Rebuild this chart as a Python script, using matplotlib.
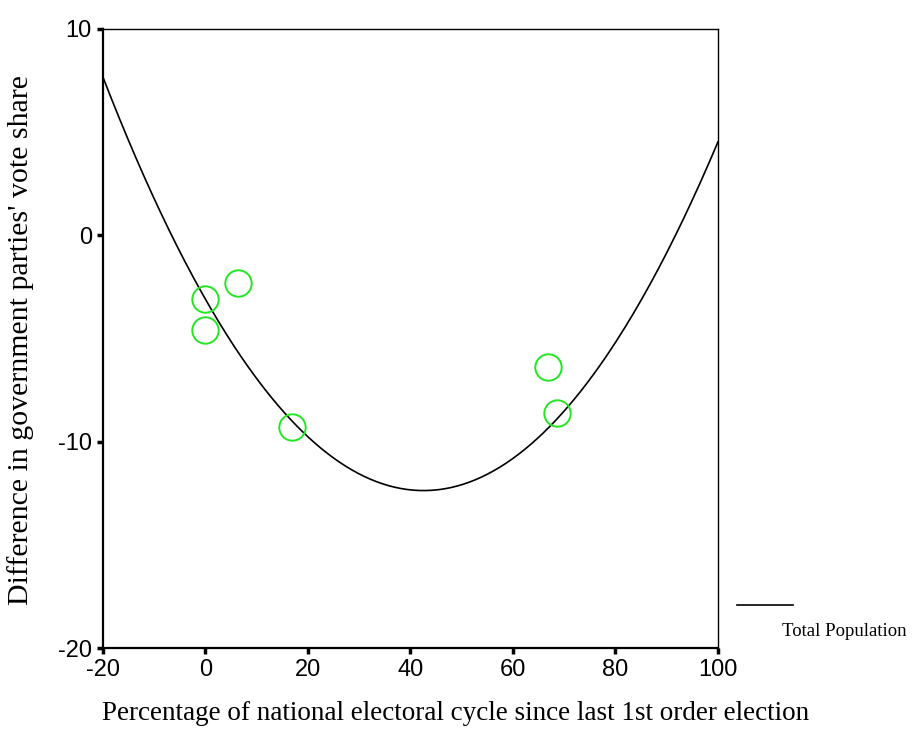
import numpy as np
import matplotlib.pyplot as plt

plt.rcParams['axes.unicode_minus'] = False

# cycle position (%) and difference in government vote share
cycle_pct = [0.0, 0.0, 6.3, 16.9, 66.8, 68.6]
vote_diff = [-3.1, -4.6, -2.3, -9.3, -6.4, -8.6]

# quadratic fit, highest power first
fit_coef = [0.00512, -0.4357, -3.1]

x_ticks = [-20, 0, 20, 40, 60, 80, 100]
y_ticks = [-20, -10, 0, 10]

fig = plt.figure(figsize=(9.13, 7.53), dpi=100)
ax = fig.add_axes([0.1128, 0.1394, 0.6736, 0.8221])

xs = np.linspace(-20, 100, 300)
ax.plot(xs, np.polyval(fit_coef, xs), color='black', lw=1.2)
ax.plot(cycle_pct, vote_diff, linestyle='none', marker='o', markersize=19,
        markerfacecolor='none', markeredgecolor='#22e622', markeredgewidth=1.4)

ax.set_xlim(-20, 100)
ax.set_ylim(-20, 10)
ax.set_xticks(x_ticks)
ax.set_yticks(y_ticks)
ax.tick_params(direction='out', length=4, width=2.5, labelsize=17, pad=4)
for lab in ax.get_xticklabels() + ax.get_yticklabels():
    lab.set_family('Liberation Sans')

for side in ['left', 'bottom']:
    ax.spines[side].set_linewidth(1.6)
for side in ['top', 'right']:
    ax.spines[side].set_linewidth(1.0)

fig.text(0.4995, 1 - 713 / 753, 'Percentage of national electoral cycle since last 1st order election',
         ha='center', va='center', family='Liberation Serif', fontsize=19.5)
fig.text(0.023, 1 - 340 / 753, "Difference in government parties' vote share", rotation=90,
         ha='center', va='center', family='Liberation Serif', fontsize=21.5)

# legend entry for the fit line
fig.add_artist(plt.Line2D([737 / 913, 793 / 913], [1 - 605 / 753, 1 - 605 / 753],
                          color='black', lw=1.2))
fig.text(844 / 913, 1 - 632 / 753, 'Total Population', ha='center', va='center',
         family='Liberation Serif', fontsize=13.5)

fig.savefig('out.png')
